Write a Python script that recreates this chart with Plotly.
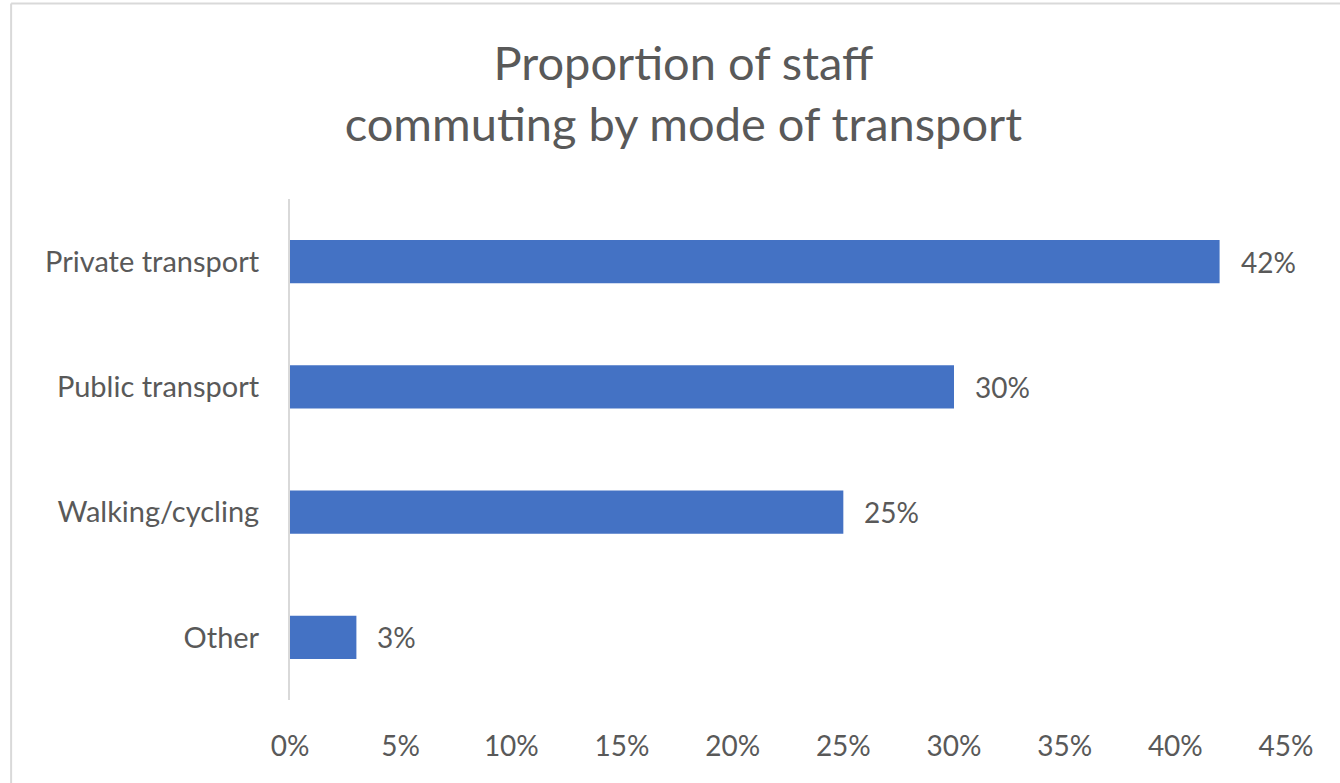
import plotly.graph_objects as go

# Commuting mode shares (percent of staff)
modes = ["Private transport", "Public transport", "Walking/cycling", "Other"]
shares = [42, 30, 25, 3]
tick_vals = [0, 5, 10, 15, 20, 25, 30, 35, 40, 45]
tick_text = [f"{v}%" for v in tick_vals]

FONT = "Lato"
GREY_TEXT = "#595959"
BAR_BLUE = "#4472C4"
LINE_GREY = "#d9d9d9"
LABEL_SIZE = 28

fig = go.Figure()
fig.add_trace(go.Bar(
    x=shares,
    y=modes,
    orientation="h",
    marker=dict(color=BAR_BLUE, line=dict(width=0)),
    width=0.345,
    hoverinfo="skip",
))

# value labels to the right of each bar
for m, v in zip(modes, shares):
    fig.add_annotation(
        x=v, y=m, text=f"{v}%", showarrow=False,
        xanchor="left", yanchor="middle", xshift=19,
        font=dict(family=FONT, size=LABEL_SIZE, color=GREY_TEXT),
    )

# chart frame
fig.add_shape(type="line", xref="paper", yref="paper",
              x0=-0.28, x1=1.2, y0=1.39, y1=1.39,
              line=dict(color=LINE_GREY, width=2))
fig.add_shape(type="line", xref="paper", yref="paper",
              x0=-0.28, x1=-0.28, y0=1.39, y1=-0.4,
              line=dict(color=LINE_GREY, width=2))

fig.update_layout(
    width=1340, height=783,
    margin=dict(l=290, r=54, t=199, b=83),
    paper_bgcolor="white", plot_bgcolor="white",
    showlegend=False,
    title=dict(
        text="Proportion of staff<br>commuting by mode of transport",
        x=0.51, xanchor="center", y=1 - 80 / 783, yanchor="middle",
        font=dict(family=FONT, size=47, color=GREY_TEXT),
    ),
    xaxis=dict(
        range=[0, 45], tickvals=tick_vals, ticktext=tick_text,
        showgrid=False, zeroline=False, showline=False, ticks="",
        tickfont=dict(family=FONT, size=LABEL_SIZE, color=GREY_TEXT),
        ticklabelstandoff=27,
    ),
    yaxis=dict(
        categoryorder="array", categoryarray=modes[::-1],
        showgrid=False, zeroline=False,
        showline=True, linecolor=LINE_GREY, linewidth=2,
        ticks="", ticklabelstandoff=23,
        tickfont=dict(family=FONT, size=29, color=GREY_TEXT),
    ),
)

fig.write_html("out.html")
